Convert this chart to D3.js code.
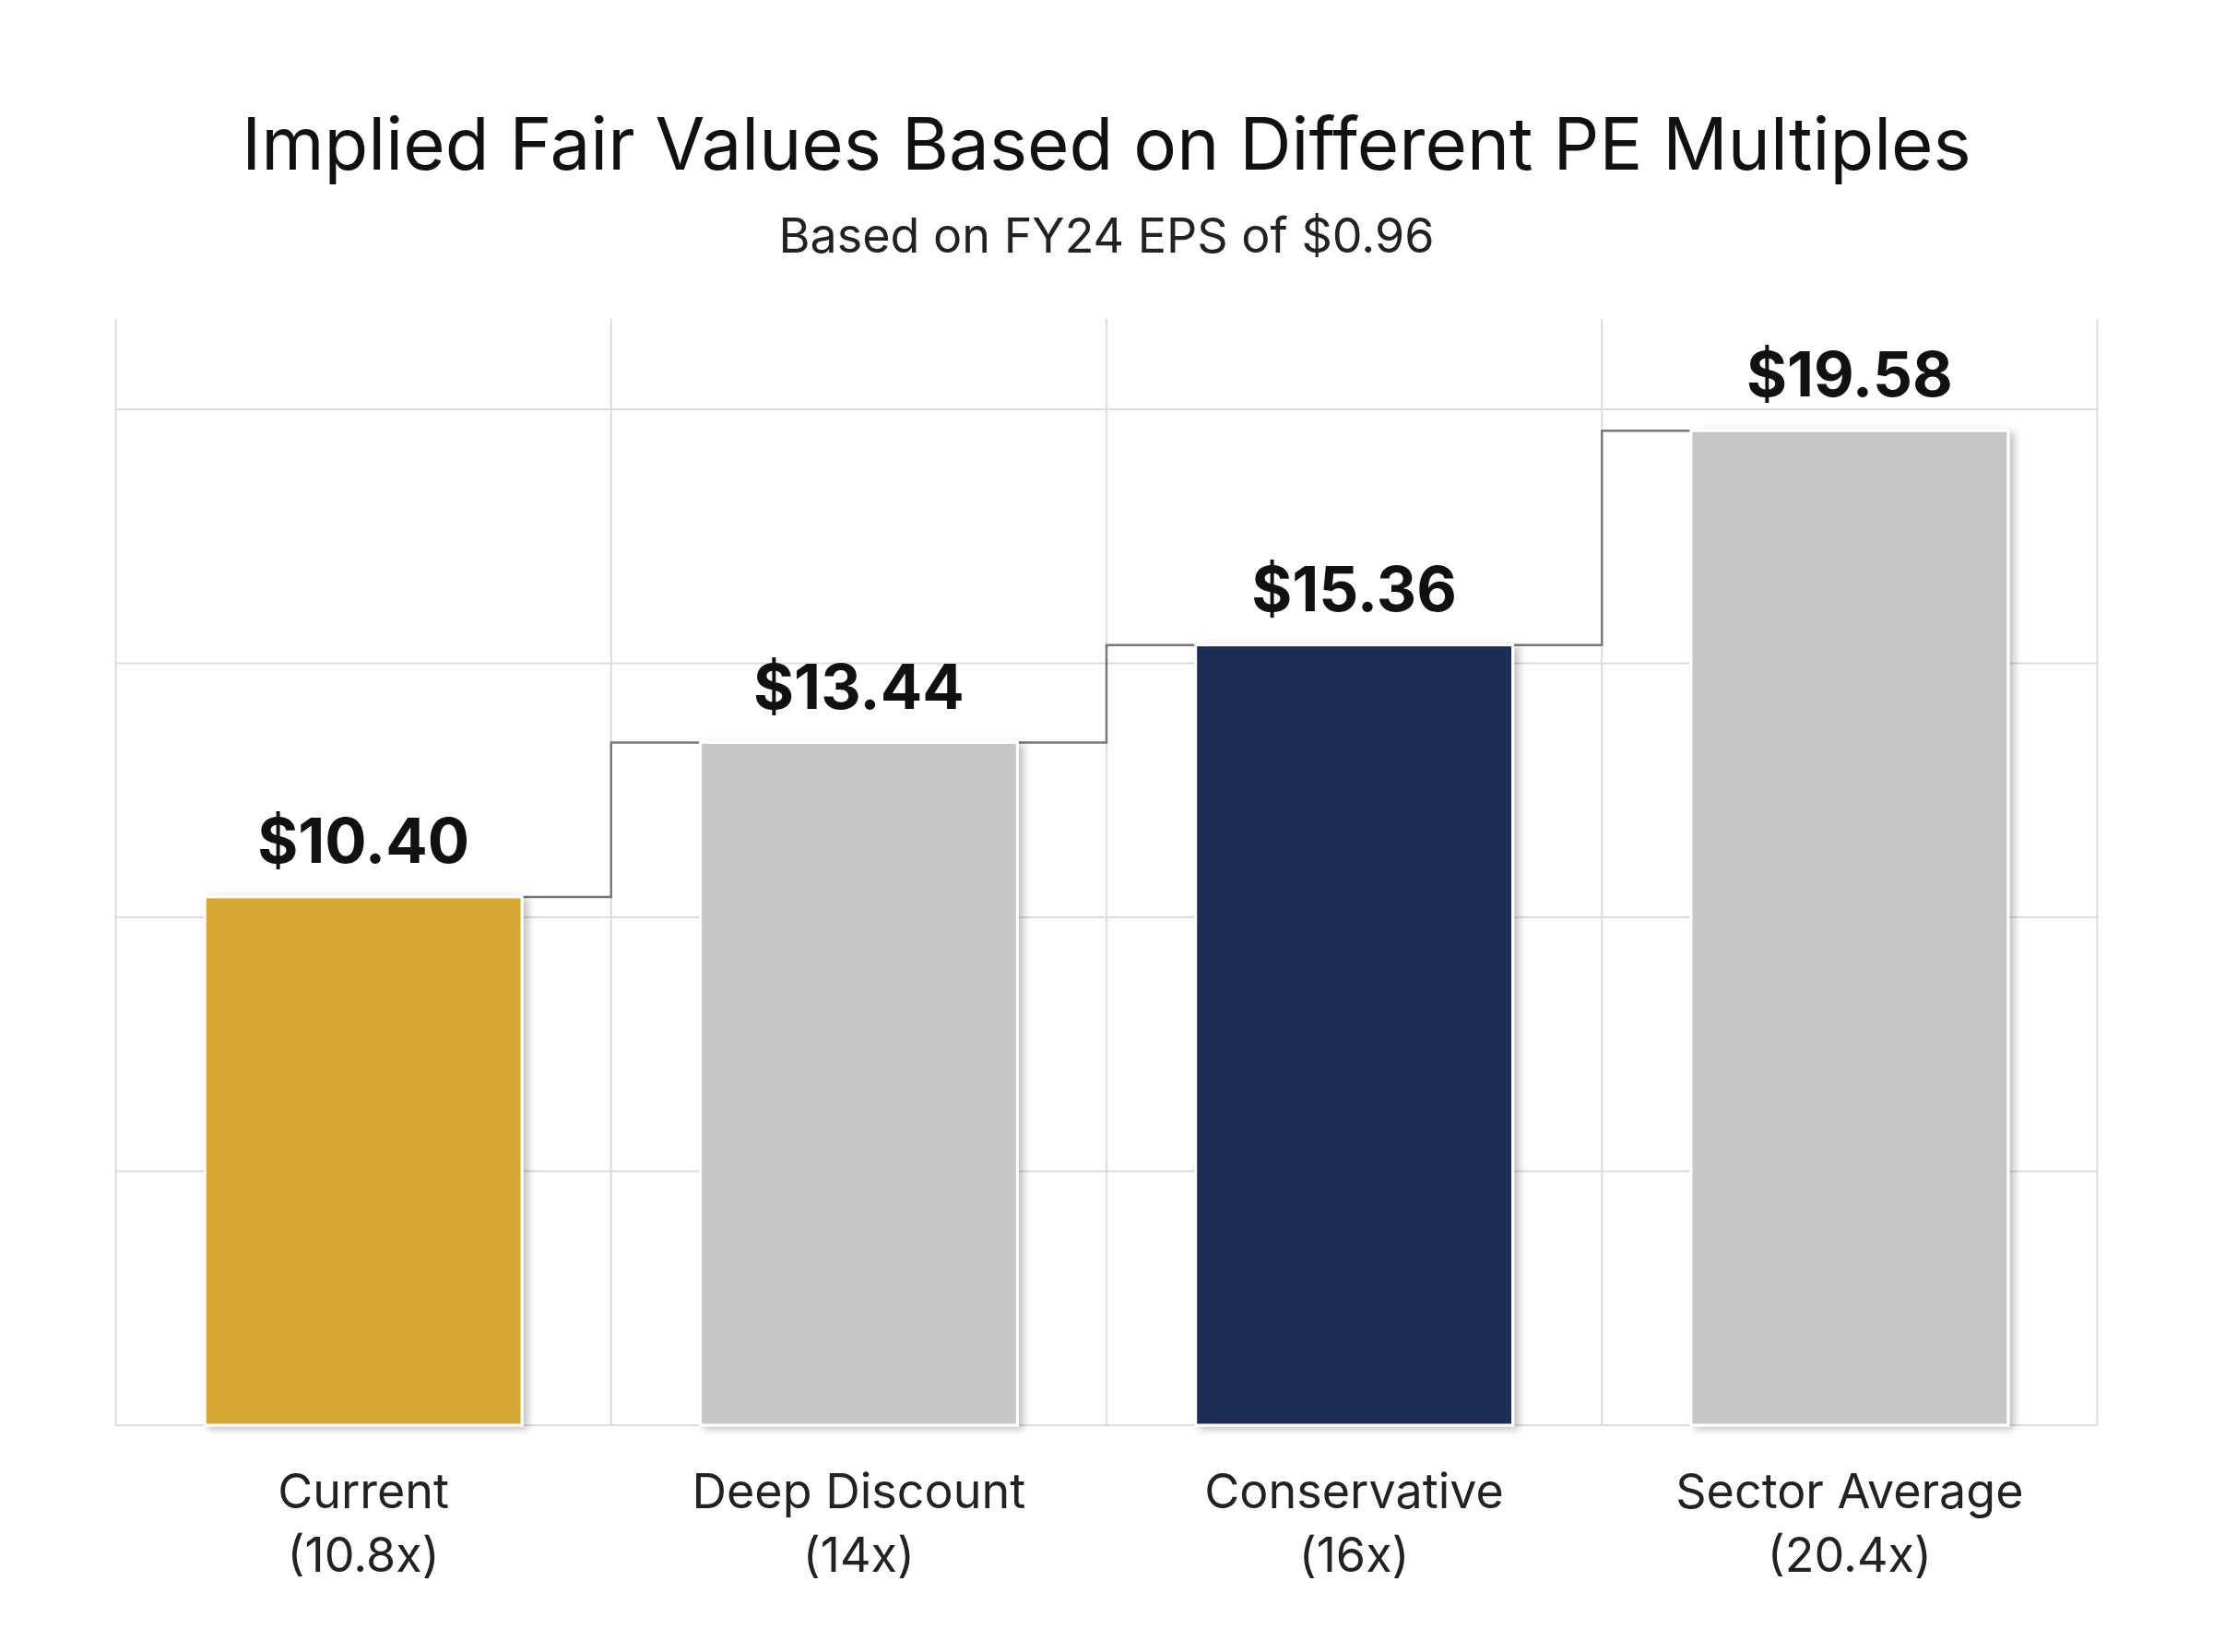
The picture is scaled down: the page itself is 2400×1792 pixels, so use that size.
<!DOCTYPE html>
<html><head><meta charset="utf-8">
<script src="https://cdn.jsdelivr.net/npm/d3@7"></script>
<style>body{margin:0;background:#fff}</style>
</head><body>
<svg id="chart" width="2400" height="1792"></svg>
<script>
// chart data
const categories = ["Current", "Deep Discount", "Conservative", "Sector Average"];
const multiples = ["(10.8x)", "(14x)", "(16x)", "(20.4x)"];
const values = [10.40, 13.44, 15.36, 19.58];
const colors = ["#d4a632", "#c6c6c6", "#1b2d57", "#c6c6c6"];
const yTicks = [0, 5, 10, 15, 20];

const k = 2400 / 1568;
const svg = d3.select("#chart");
const plotLeft = 82 * k, plotRight = 1486 * k, plotTop = 226 * k, plotBottom = 1010 * k;
const font = "Inter, 'Open Sans', sans-serif";

const x = d3.scaleBand().domain(categories).range([plotLeft, plotRight]).paddingInner(0).paddingOuter(0);
const y = d3.scaleLinear().domain([0, 21.78]).range([plotBottom, plotTop]);
const barW = x.bandwidth() * 0.64;

// shadow
const defs = svg.append("defs");
const f = defs.append("filter").attr("id", "sh").attr("x", "-10%").attr("y", "-10%").attr("width", "130%").attr("height", "130%");
f.append("feDropShadow").attr("dx", 5).attr("dy", 3).attr("stdDeviation", 4).attr("flood-color", "#000").attr("flood-opacity", 0.25);

// grid
svg.append("g").selectAll("line").data(yTicks).enter().append("line")
  .attr("x1", plotLeft).attr("x2", plotRight).attr("y1", d => y(d)).attr("y2", d => y(d))
  .attr("stroke", "#dcdcdc").attr("stroke-width", 2);
const edges = categories.map(c => x(c)).concat([plotRight]);
svg.append("g").selectAll("line").data(edges).enter().append("line")
  .attr("x1", d => d).attr("x2", d => d).attr("y1", plotTop).attr("y2", plotBottom)
  .attr("stroke", "#dcdcdc").attr("stroke-width", 2);

// step connector
const pts = [];
values.forEach((v, i) => {
  const c = x(categories[i]) + x.bandwidth() / 2;
  if (i > 0) { pts.push([x(categories[i]), y(values[i - 1])]); pts.push([x(categories[i]), y(v)]); pts.push([c - barW / 2, y(v)]); }
  if (i < values.length - 1) { pts.push([c + barW / 2, y(v)]); }
});
svg.append("path").attr("d", d3.line()(pts)).attr("fill", "none").attr("stroke", "#777").attr("stroke-width", 2.5);

// bars
svg.append("g").selectAll("rect").data(values).enter().append("rect")
  .attr("x", (d, i) => x(categories[i]) + x.bandwidth() / 2 - barW / 2)
  .attr("width", barW)
  .attr("y", d => y(d)).attr("height", d => plotBottom - y(d))
  .attr("fill", (d, i) => colors[i]).attr("stroke", "#fff").attr("stroke-width", 3)
  .attr("filter", "url(#sh)");

// value labels
svg.append("g").selectAll("text").data(values).enter().append("text")
  .attr("x", (d, i) => x(categories[i]) + x.bandwidth() / 2)
  .attr("y", d => y(d) - 24 * k)
  .attr("text-anchor", "middle").attr("font-family", font).attr("font-weight", 700)
  .attr("font-size", 44 * k).attr("fill", "#111")
  .text(d => "$" + d.toFixed(2));

// category labels
const lab = svg.append("g").attr("font-family", font).attr("font-size", 34 * k).attr("fill", "#222").attr("text-anchor", "middle");
categories.forEach((c, i) => {
  const cx = x(c) + x.bandwidth() / 2;
  lab.append("text").attr("x", cx).attr("y", 1069 * k).text(c);
  lab.append("text").attr("x", cx).attr("y", 1114 * k).text(multiples[i]);
});

// titles
svg.append("text").attr("x", 784 * k).attr("y", 120 * k).attr("text-anchor", "middle")
  .attr("font-family", font).attr("font-size", 51 * k).attr("fill", "#111")
  .text("Implied Fair Values Based on Different PE Multiples");
svg.append("text").attr("x", 784 * k).attr("y", 179 * k).attr("text-anchor", "middle")
  .attr("font-family", font).attr("font-size", 34 * k).attr("fill", "#222")
  .text("Based on FY24 EPS of $0.96");
</script>
</body></html>
